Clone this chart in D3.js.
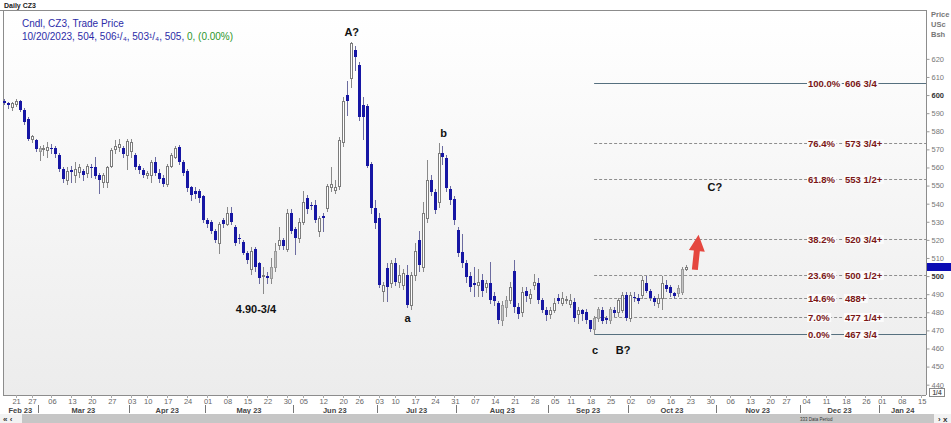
<!DOCTYPE html>
<html>
<head>
<meta charset="utf-8">
<script src="https://cdn.jsdelivr.net/npm/d3@7"></script>
<style>
body { margin: 0; background: #fff; }
svg { display: block; font-family: "Liberation Sans", Arial, sans-serif; }
</style>
</head>
<body>
<svg id="chart" width="951" height="423"></svg>
<script>
// daily CZ3 candles, Feb 15 2023 .. Oct 20 2023, [open, high, low, close]
var candles = [
  [597,598,595,595.5],[595.5,596,593,594.5],[593.5,596,592,595.5],[595,598,594,597],[596.5,597.5,591,591.5],
  [592,593,584,585],[587,588,575,576],[576,578,574,577.5],[575,576,569,570],[569,572,564,571],
  [570,572.5,567,570.5],[569.5,574,566,571.5],[571,573,568,570],[571,572,566,567.5],[567,568,558,559],
  [559,560,552,553.5],[553,560,551,558],[558.5,561,552,557.5],[556,563,552,559],[557.5,562,555,560],
  [558,559,553,556],[557,562,555,561],[560.5,562,555,559.5],[560.5,566,554,555.5],[556,557,546,553],
  [552,557,549,556],[552,561,549,560.5],[561,570.5,560,569.5],[570,575,568,572],[571.5,576,569,573],
  [570.5,572,566,567.5],[567,575.5,559,574.5],[569,576,566,574],[567,568,559,560.5],[561,562,557,558.5],
  [558.5,559.5,555,556],[556,558,554,557],[556,564,552,563],[563,566,556,557],[557,559,552,553.5],
  [554,556,550,551],[551,562,550,561],[561,568,560,567],[566,572,565,571],[571.5,572.5,562,563],
  [563,564,556,557],[558,559,547,548.5],[549,550,542,545],[547,549,543,545.5],[547,548,541,543],
  [544,545,530,531],[531,532,527,528.5],[530,531,524,525],[525,526,519,520],[518.5,530,512.5,529],
  [531,532,527,529],[529,538,528,535],[535,538,529,530],[527,528,517,518],[521,523,518,520.5],
  [519,520,512,513],[513,514,507,509],[504,516,501,514],[515,516,503,505],[507,508,496,499],
  [500,505,490.75,500.5],[500,502,496,499],[499,510,496,505],[505,518,503,514],[517,527,515,520],
  [520,521,515,516.5],[515,537,514,535],[535,537,524,525],[526,527,512,521],[521,532,519,530],
  [530,547,529,541],[543,545,535,537],[539,541,537,538.5],[539,542,530,531],[525,533,522,532],
  [533,535,525,532],[537.5,551,536,550],[549,560,547,551],[547.5,553,546,549],[550,577,548,575],
  [574,599,572,597],[600,608,589,597],[609.5,629.5,604.5,628.5],[625,627,614,621],[616.5,618,586,588],
  [594.5,599,576,588],[594,595,560,561],[562,563,535,537.5],[537.5,542,526.5,529.5],[532,535,494,495],
  [492,497,486,495],[504.5,507,486,494],[496,509,494,507],[507.5,510,495,497],[497,506,494,500.5],
  [495,504,493,501.5],[500.5,506,482.75,484],[484,502,482,500.5],[500.5,518,498,514],[520,525,503,506],
  [505,541,503,535],[532,564,530,553],[553,556,545,546.5],[546.5,548,535,536.5],[541,573.5,538,568],
  [568,572,562,566],[565.5,567,547,548.5],[548,550,540,542],[542.5,544,529,531],[525.5,527,511,513],
  [513.5,523,505,507],[507,509,497,499.5],[500,502,492,494],[496,505,489,495],[495,504,489,497],
  [498,501,489,492],[494,498,491,496],[496,508,485,487],[489,491,484,486],[485,486,474,476],
  [476,486,473,484],[483,489,478,487],[487,497,485,494],[503,509,480,483],[483,485,477,479],
  [480,494,478,491],[492,494,486,489],[488,493,485,490],[495,501,493,497],[496,499,485,487],
  [487,488,480,481],[481,483,476,478.5],[479,483,477,481],[481,488,480,485],[488,490,485,486],
  [485,491,484,488],[487,489,485,487.5],[484.5,490,483,487],[485.5,488,475,477],[479,483,474,481],
  [481,482,476,479],[480,482,474,475.5],[475.5,476,469.5,471],[471,478,467.75,477],[477,483,475,482],
  [481,483,474,475],[477,478,474,476],[476,483,474,482],[481,483,478,479.5],[480,488,478,487],
  [481,491,480,489.5],[489.5,491,476,477],[477,491,475,489.5],[488.5,491,486,488],[488,490,485,486],
  [489.5,500,488,498],[496,500,491,492],[492,493,487,488],[488,489,484,485.5],[485,490,483,488],
  [488,500,482,496],[495,498,492,493],[494,495,489,490.5],[490.5,491,488,489],[490.5,495,489,493.5],
  [491,505,490,504],[504,506.25,503.25,505]
];
// up candles drawn in light grey instead of hollow
var greyCandles = [9, 67, 68, 125, 126, 148, 149, 152, 169, 170];

var holidays = ["2023-02-20","2023-04-07","2023-05-29","2023-06-19","2023-07-04","2023-09-04","2023-11-23","2023-12-25"];
var priceTicks = [440,450,460,470,480,490,500,510,520,530,540,550,560,570,580,590,600,610,620];
var boldTicks = [500, 600];

var fibLevels = [606.75, 573.75, 553.5, 520.75, 500.5, 488, 477.25, 467.75];
var fibPct = ["100.0%", "76.4%", "61.8%", "38.2%", "23.6%", "14.6%", "7.0%", "0.0%"];
var fibText = ["606 3/4", "573 3/4+", "553 1/2+", "520 3/4+", "500 1/2+", "488+", "477 1/4+", "467 3/4"];
var fibFrom = 148;   // candle of the Sep low

var notes = [
  {t: "A?", k: 87, p: 629.5, dy: -10},
  {t: "b", k: 110, p: 573.5, dy: -10},
  {t: "a", k: 101, p: 482.75, dy: 11},
  {t: "4.90-3/4", k: 63, p: 490.75, dy: 16},
  {t: "c", k: 148, p: 467.75, dy: 16},
  {t: "B?", k: 155, p: 467.75, dy: 16},
  {t: "C?", k: 178, p: 549, dy: 0}
];
var lastPrice = 505;

var svg = d3.select("#chart"),
    plot = {left: 3, top: 10, right: 926, bottom: 395};

var x = d3.scaleLinear().domain([0, 229]).range([3.6, 917.3]),
    y = d3.scaleLinear().domain([434.3, 647]).range([plot.bottom, plot.top]);

var iso = d3.timeFormat("%Y-%m-%d");
var days = d3.timeDay.range(new Date(2023, 1, 15), new Date(2024, 0, 20)).filter(function(d) {
  var wd = d.getDay();
  return wd > 0 && wd < 6 && holidays.indexOf(iso(d)) < 0;
});

// background
var defs = svg.append("defs");
var grad = defs.append("linearGradient").attr("id", "bg").attr("x1", 0).attr("y1", 0).attr("x2", 0).attr("y2", 1);
grad.append("stop").attr("offset", "0%").attr("stop-color", "#ffffff");
grad.append("stop").attr("offset", "100%").attr("stop-color", "#ececec");

svg.append("rect").attr("width", 951).attr("height", 423).attr("fill", "#fff");
svg.append("rect")
    .attr("x", plot.left).attr("y", plot.top)
    .attr("width", plot.right - plot.left).attr("height", plot.bottom - plot.top)
    .attr("fill", "url(#bg)");

// frame
svg.append("line").attr("x1", 0).attr("x2", plot.right).attr("y1", plot.top + 0.5).attr("y2", plot.top + 0.5).attr("stroke", "#8c8c8c");
svg.append("line").attr("x1", plot.left + 0.5).attr("x2", plot.left + 0.5).attr("y1", plot.top).attr("y2", plot.bottom).attr("stroke", "#8c8c8c");
svg.append("line").attr("x1", plot.left).attr("x2", plot.right).attr("y1", plot.bottom + 0.5).attr("y2", plot.bottom + 0.5).attr("stroke", "#8c8c8c");

// header
svg.append("text").attr("x", 4).attr("y", 8).attr("font-size", 7).attr("font-weight", "bold").attr("fill", "#222").text("Daily CZ3");
svg.append("text").attr("x", 22).attr("y", 27).attr("font-size", 10).attr("fill", "#2c2ca8").text("Cndl, CZ3, Trade Price");
var h2 = svg.append("text").attr("x", 22).attr("y", 40).attr("font-size", 10).attr("fill", "#2c2ca8");
h2.append("tspan").text("10/20/2023, 504, 506\u00b9/\u2084, 503\u00b9/\u2084, 505, ");
h2.append("tspan").attr("fill", "#2b962b").text("0, (0.00%)");

// price axis
var yAxis = d3.axisRight(y).tickValues(priceTicks).tickSize(3).tickPadding(2);
var ya = svg.append("g").attr("transform", "translate(" + (plot.right + 0.5) + ",0)").call(yAxis);
ya.select(".domain").attr("stroke", "#8c8c8c").attr("d", "M0," + plot.top + "V" + plot.bottom);
ya.selectAll(".tick line").attr("stroke", "#999");
ya.selectAll(".tick text")
    .attr("font-size", 7.5)
    .attr("font-family", "Liberation Sans, Arial, sans-serif")
    .attr("fill", function(d) { return boldTicks.indexOf(d) >= 0 ? "#333" : "#777"; })
    .attr("font-weight", function(d) { return boldTicks.indexOf(d) >= 0 ? "bold" : "normal"; });

["Price", "USc", "Bsh"].forEach(function(t, i) {
  svg.append("text").attr("x", 931).attr("y", 17 + i * 10).attr("font-size", 7.5).attr("font-weight", "bold").attr("fill", "#777").text(t);
});
svg.append("rect").attr("x", 929.5).attr("y", 388.5).attr("width", 15).attr("height", 8).attr("fill", "#fff").attr("stroke", "#888");
svg.append("text").attr("x", 937).attr("y", 395).attr("text-anchor", "middle").attr("font-size", 6.5).attr("font-weight", "bold").attr("fill", "#555").text("1/4");

// time axis: first trading day of each week, months below
var fmtDay = d3.timeFormat("%d"), fmtMon = d3.timeFormat("%b %y");
var weekStarts = [];
days.forEach(function(d, k) {
  if (k > 0 && +d3.timeMonday.floor(d) !== +d3.timeMonday.floor(days[k - 1])) weekStarts.push(k);
});
svg.append("g").selectAll("text").data(weekStarts).enter().append("text")
    .attr("x", function(k) { return x(k) + 1; })
    .attr("y", 404)
    .attr("text-anchor", "middle")
    .attr("font-size", 7.5)
    .attr("fill", "#666")
    .text(function(k) { return fmtDay(days[k]); });
svg.append("g").selectAll("line").data(weekStarts).enter().append("line")
    .attr("x1", function(k) { return Math.round(x(k)) + 0.5; })
    .attr("x2", function(k) { return Math.round(x(k)) + 0.5; })
    .attr("y1", plot.bottom).attr("y2", plot.bottom + 3)
    .attr("stroke", "#aaa");

var months = [];
days.forEach(function(d, k) {
  var m = fmtMon(d);
  if (!months.length || months[months.length - 1].m !== m) months.push({m: m, first: k, last: k});
  else months[months.length - 1].last = k;
});
months.forEach(function(mo, i) {
  var a = Math.max(plot.left, x(mo.first) - 2), b = Math.min(plot.right, x(mo.last) + 2);
  svg.append("text").attr("x", (a + b) / 2).attr("y", 412.5).attr("text-anchor", "middle")
      .attr("font-size", 7.5).attr("font-weight", "bold").attr("fill", "#444").text(mo.m);
  if (i > 0) {
    var sx = Math.round(x(mo.first - 0.5)) + 0.5;
    svg.append("line").attr("x1", sx).attr("x2", sx).attr("y1", 405).attr("y2", 413).attr("stroke", "#777");
  }
});

// scroll bar
svg.append("rect").attr("x", 0).attr("y", 414).attr("width", 951).attr("height", 9).attr("fill", "#f2f2f2");
svg.append("rect").attr("x", 22).attr("y", 414).attr("width", 912).attr("height", 9).attr("fill", "#c6c6c6");
svg.append("text").attr("x", 3).attr("y", 421.5).attr("font-size", 8).attr("font-weight", "bold").attr("fill", "#333").text("\u00ab \u2039");
svg.append("text").attr("x", 938).attr("y", 421.5).attr("font-size", 8).attr("font-weight", "bold").attr("fill", "#333").text("\u203a x");
svg.append("text").attr("x", 800).attr("y", 421).attr("font-size", 4.5).attr("fill", "#333").text("333 Data Period");

// fibonacci levels
var fib = svg.append("g");
fibLevels.forEach(function(p, i) {
  var yy = Math.round(y(p)) + 0.5, solid = (i === 0 || i === fibLevels.length - 1);
  fib.append("line")
      .attr("x1", x(fibFrom)).attr("x2", plot.right)
      .attr("y1", yy).attr("y2", yy)
      .attr("stroke", solid ? "#56707f" : "#8e8e8e")
      .attr("stroke-dasharray", solid ? null : "3,2");
  [[fibPct[i], plot.right - 118], [fibText[i], plot.right - 81]].forEach(function(t) {
    var tx = fib.append("text").attr("x", t[1]).attr("y", yy + 3.5)
        .attr("font-size", 9.5).attr("font-weight", "bold").attr("fill", "#7a1616").text(t[0]);
    var bb = tx.node().getBBox();
    fib.insert("rect", function() { return tx.node(); })
        .attr("x", bb.x - 1).attr("y", bb.y + 1).attr("width", bb.width + 2).attr("height", bb.height - 2)
        .attr("fill", "#fbfbfb");
  });
});

// candles
var cg = svg.append("g");
candles.forEach(function(c, k) {
  var cx = Math.round(x(k)), o = c[0], h = c[1], l = c[2], cl = c[3];
  var down = cl < o, grey = greyCandles.indexOf(k) >= 0;
  var top = Math.round(y(Math.max(o, cl))), bot = Math.round(y(Math.min(o, cl)));
  cg.append("line")
      .attr("x1", cx + 0.5).attr("x2", cx + 0.5)
      .attr("y1", Math.round(y(h))).attr("y2", Math.round(y(l)) + 1)
      .attr("stroke", down ? "#6c6ca0" : "#8a8a8a");
  if (down) {
    cg.append("rect").attr("x", cx - 1).attr("y", top).attr("width", 3).attr("height", Math.max(1, bot - top))
        .attr("fill", "#1616a4");
  } else {
    cg.append("rect").attr("x", cx - 0.5).attr("y", top + 0.5).attr("width", 2).attr("height", Math.max(1, bot - top))
        .attr("fill", grey ? "#c4c4c4" : "#fff").attr("stroke", grey ? "#9a9a9a" : "#7c7c7c");
  }
});

// last price marker
svg.append("rect").attr("x", plot.right + 1).attr("y", Math.round(y(lastPrice)) - 4).attr("width", 951 - plot.right).attr("height", 8).attr("fill", "#0c0cb4");

// wave labels
svg.append("g").selectAll("text").data(notes).enter().append("text")
    .attr("x", function(d) { return x(d.k) + 1; })
    .attr("y", function(d) { return y(d.p) + d.dy + 4; })
    .attr("text-anchor", "middle")
    .attr("font-size", 11).attr("font-weight", "bold").attr("fill", "#111")
    .text(function(d) { return d.t; });

// red arrow
var ax = x(173) + 1, tipY = y(523), headY = y(514), baseY = y(503.5);
svg.append("path")
    .attr("d", "M" + ax + "," + tipY + "L" + (ax + 8) + "," + headY + "L" + (ax + 3) + "," + headY +
               "L" + (ax + 3) + "," + baseY + "L" + (ax - 3) + "," + baseY + "L" + (ax - 3) + "," + headY +
               "L" + (ax - 8) + "," + headY + "Z")
    .attr("transform", "rotate(6," + ax + "," + baseY + ")")
    .attr("fill", "#e5473f");
</script>
</body>
</html>
